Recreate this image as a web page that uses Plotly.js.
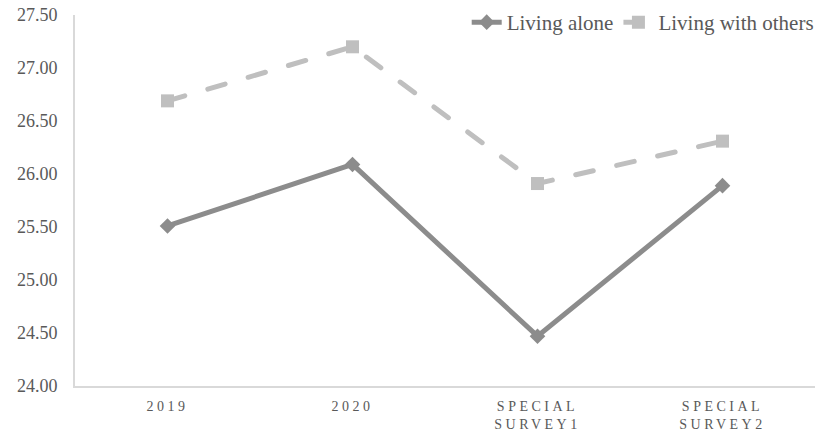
<!DOCTYPE html>
<html><head><meta charset="utf-8">
<script src="https://cdn.plot.ly/plotly-3.0.1.min.js"></script>
<style>
html,body{margin:0;padding:0;background:#fff;}
.xtick text{letter-spacing:3.5px;}
.scatterlayer .js-line{stroke-linecap:round;}
</style>
</head><body>
<div id="chart" style="width:824px;height:436px;"></div>
<script>
const categories = ["2019", "2020", "SPECIAL<br>SURVEY1", "SPECIAL<br>SURVEY2"];
const livingAlone = [25.51, 26.09, 24.47, 25.89];
const livingWithOthers = [26.69, 27.20, 25.91, 26.31];
const yTickVals = [24.0, 24.5, 25.0, 25.5, 26.0, 26.5, 27.0, 27.5];

const serif = "'Liberation Serif', 'Times New Roman', Times, serif";
const traces = [
  {x: categories, y: livingAlone, name: "Living alone", type: "scatter", mode: "lines+markers",
   line: {color: "#8c8c8c", width: 5}, marker: {symbol: "diamond", size: 12, color: "#8c8c8c"}},
  {x: categories, y: livingWithOthers, name: "Living with others", type: "scatter", mode: "lines+markers",
   line: {color: "#bfbfbf", width: 5, dash: "18px,24px"}, marker: {symbol: "square", size: 13, color: "#bfbfbf"}}
];
const layout = {
  width: 824, height: 436,
  margin: {l: 75, r: 9, t: 15, b: 50, autoexpand: false},
  paper_bgcolor: "#fff", plot_bgcolor: "#fff",
  font: {family: serif, color: "#595959", size: 15},
  showlegend: true,
  legend: {orientation: "h", x: 1.005, xanchor: "right", y: 1.035, yanchor: "top",
           font: {family: serif, size: 21, color: "#595959"}, tracegroupgap: 0, entrywidth: 0},
  xaxis: {type: "category", range: [-0.5, 3.5], showgrid: false, showline: true, linecolor: "#d9d9d9", linewidth: 2,
          ticks: "", tickfont: {family: serif, size: 14, color: "#595959"}, zeroline: false, fixedrange: true,
          ticklabelstandoff: 6},
  yaxis: {range: [24, 27.5], tickvals: yTickVals, tickformat: ".2f", showgrid: false,
          showline: true, linecolor: "#d9d9d9", linewidth: 2, ticks: "", zeroline: false,
          tickfont: {family: serif, size: 18, color: "#595959"}, ticklabelstandoff: 12}
};
Plotly.newPlot("chart", traces, layout, {displayModeBar: false, staticPlot: true});
</script>
</body></html>
